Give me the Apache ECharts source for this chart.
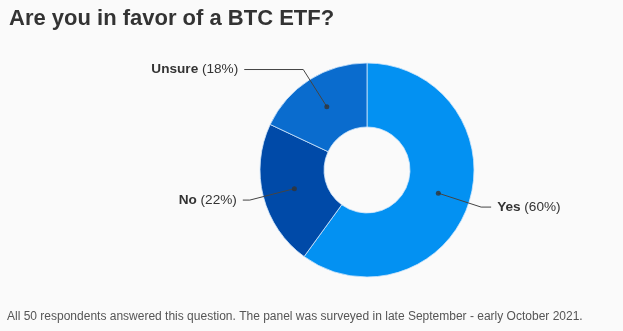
<!DOCTYPE html>
<html>
<head>
<meta charset="utf-8">
<script src="https://cdn.jsdelivr.net/npm/echarts@6/dist/echarts.min.js"></script>
<style>
html,body{margin:0;padding:0;background:#fafafa;}
#c{width:623px;height:331px;}
</style>
</head>
<body>
<div id="c"></div>
<script>
const titleText = 'Are you in favor of a BTC ETF?';
const footerText = 'All 50 respondents answered this question. The panel was surveyed in late September - early October 2021.';
const categories = ['Yes', 'No', 'Unsure'];
const values = [60, 22, 18];
const colors = ['#0391f2', '#004aa8', '#0a6cce'];
const lineLen1 = [45, 46, 44];
const lineLen2 = [10, 7, 59];

const total = values.reduce((a, b) => a + b, 0);
const FONT = '"Liberation Sans", Arial, Helvetica, sans-serif';
const CENTER = [367, 170];

// midpoints of each slice along the angle axis
const mids = [];
let acc = 0;
values.forEach(v => { mids.push(acc + v / 2); acc += v; });

const chart = echarts.init(document.getElementById('c'), null, {renderer: 'canvas'});
chart.setOption({
  backgroundColor: '#fafafa',
  animation: false,
  title: [{
    text: titleText, left: 9, top: 8, padding: 0,
    textStyle: {fontFamily: FONT, fontSize: 22, fontWeight: 'bold', color: '#333'}
  }, {
    text: footerText, left: 7, top: 311, padding: 0,
    textStyle: {fontFamily: FONT, fontSize: 12, fontWeight: 'normal', color: '#555'}
  }],
  polar: {center: CENTER, radius: 75},
  angleAxis: {type: 'value', min: 0, max: total, startAngle: 90, clockwise: true, show: false},
  radiusAxis: {type: 'value', min: 0, max: 1, show: false},
  series: [{
    type: 'pie',
    center: CENTER,
    radius: [43, 107],
    startAngle: 90,
    clockwise: true,
    silent: true,
    label: {show: false},
    labelLine: {show: false},
    itemStyle: {borderColor: '#cfe6fb', borderWidth: 0.8},
    data: categories.map((c, i) => ({name: c, value: values[i], itemStyle: {color: colors[i]}})),
    z: 1
  }, {
    type: 'pie',
    center: CENTER,
    radius: [0, 75],
    startAngle: 90,
    clockwise: true,
    silent: true,
    avoidLabelOverlap: false,
    itemStyle: {color: 'rgba(0,0,0,0)'},
    label: {
      show: true,
      distanceToLabelLine: 6,
      fontFamily: FONT,
      fontSize: 13.6,
      color: '#333',
      formatter: p => '{b|' + p.name + '} (' + Math.round(p.value / total * 100) + '%)',
      rich: {b: {fontWeight: 'bold', fontFamily: FONT, fontSize: 13.6, color: '#333'}}
    },
    labelLine: {show: true, smooth: false, lineStyle: {color: '#444', width: 1}},
    data: categories.map((c, i) => ({name: c, value: values[i], labelLine: {length: lineLen1[i], length2: lineLen2[i]}})),
    z: 3
  }, {
    type: 'scatter',
    coordinateSystem: 'polar',
    symbolSize: 5,
    silent: true,
    itemStyle: {color: '#333'},
    data: mids.map(m => [1, m]),
    z: 4
  }]
});
</script>
</body>
</html>
